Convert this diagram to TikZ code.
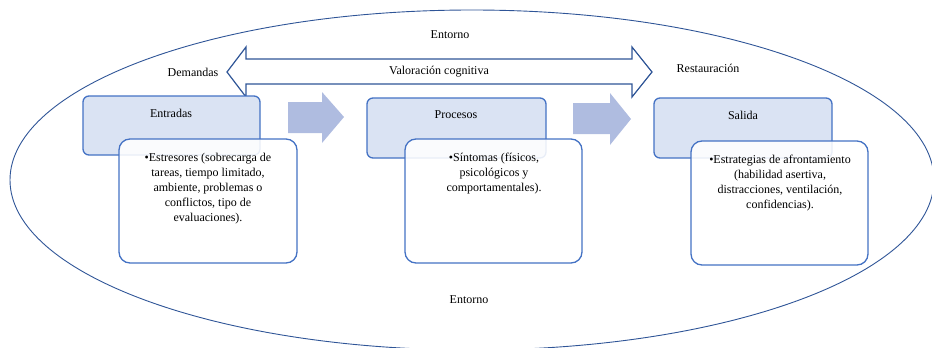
\documentclass[tikz,border=0pt]{standalone}
\usepackage{fontspec}
\setmainfont{Liberation Serif}
\begin{document}
\begin{tikzpicture}[x=1pt,y=-1pt,
  headbox/.style={draw=boxblue,line width=1.3pt,fill=headfill,rounded corners=6pt},
  bulbox/.style={draw=boxblue,line width=1.3pt,fill=white,fill opacity=0.88,rounded corners=11pt},
  lbl/.style={font=\fontsize{12}{14}\selectfont,inner sep=0pt},
  bultext/.style={font=\fontsize{12}{15}\selectfont,align=center,anchor=north,inner sep=0pt},
  blockarrow/.style={fill=arrowfill,draw=none},
  dblarrow/.style={draw=lineblue,line width=1.2pt,fill=white,line join=miter}]
\definecolor{boxblue}{HTML}{4472C4}
\definecolor{headfill}{HTML}{DAE3F3}
\definecolor{arrowfill}{HTML}{AFBCE0}
\definecolor{lineblue}{HTML}{2F5597}
\useasboundingbox (0,0) rectangle (932,348);
\begin{scope}
\clip (0,0) rectangle (932,348);
\draw[lineblue,line width=0.9pt] (472,180) ellipse [x radius=462, y radius=170];
\end{scope}
% double arrow
\draw[dblarrow] (227,72) -- (246,47) -- (246,59) -- (632,59) -- (632,47) -- (652,72)
  -- (632,97) -- (632,84) -- (246,84) -- (246,97) -- cycle;
\node[lbl] (entornotop) at (450,35) {Entorno};
\node[lbl] (demandas) at (193,72) {Demandas};
\node[lbl] (valoracion) at (439,72) {Valoración cognitiva};
\node[lbl] (restauracion) at (708,68) {Restauración};
\node[lbl] (entornobot) at (469,300) {Entorno};
% block arrows
\fill[blockarrow] (288,102) -- (322,102) -- (322,92) -- (344,117) -- (322,143) -- (322,133) -- (288,133) -- cycle;
\fill[blockarrow] (573,103) -- (610,103) -- (610,93) -- (631,119) -- (610,145) -- (610,134) -- (573,134) -- cycle;
% header boxes
\draw[headbox] (83,96) rectangle (260,155);
\node[lbl] (entradas) at (171,113) {Entradas};
\draw[headbox] (367,98) rectangle (546,158);
\node[lbl] (procesos) at (456,115) {Procesos};
\draw[headbox] (654,98) rectangle (832,158);
\node[lbl] (salida) at (743,115) {Salida};
% bullet boxes
\draw[bulbox] (119,139) rectangle (297,263);
\node[bultext] (t1) at (208,153) {•Estresores (sobrecarga de\\tareas, tiempo limitado,\\ambiente, problemas o\\conflictos, tipo de\\evaluaciones).};
\draw[bulbox] (405,139) rectangle (582,263);
\node[bultext] (t2) at (494,153) {•Síntomas (físicos,\\psicológicos y\\comportamentales).};
\draw[bulbox] (691,141) rectangle (868,265);
\node[bultext] (t3) at (780,155) {•Estrategias de afrontamiento\\(habilidad asertiva,\\distracciones, ventilación,\\confidencias).};
\end{tikzpicture}
\end{document}
